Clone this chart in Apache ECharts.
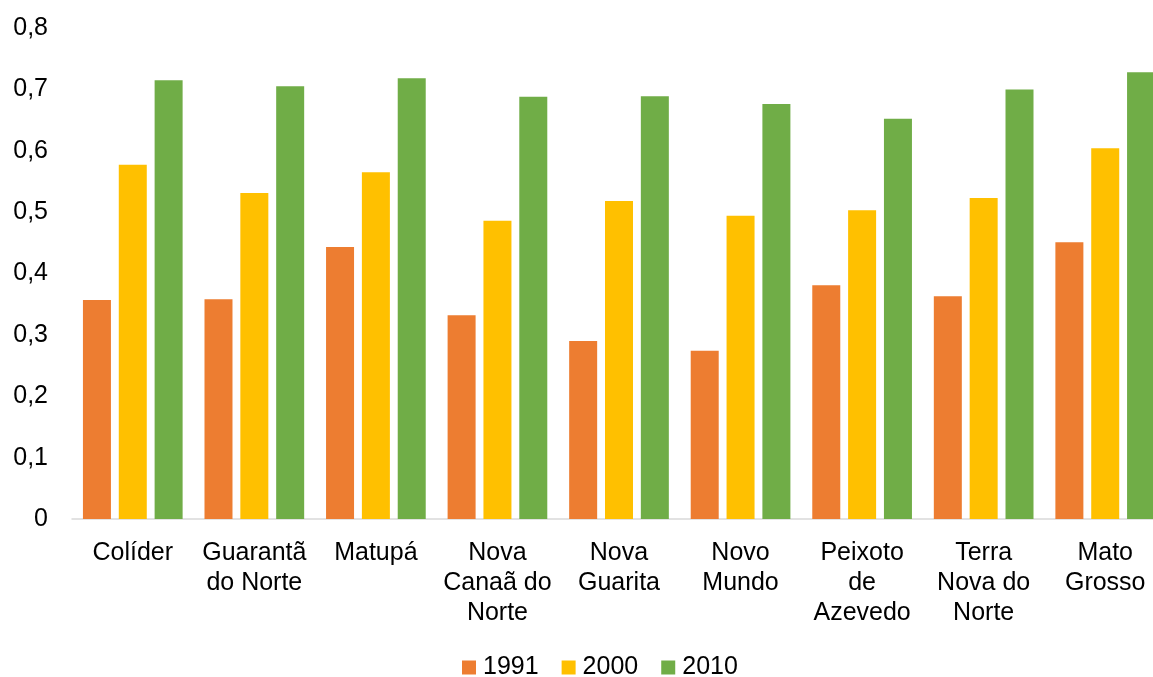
<!DOCTYPE html>
<html>
<head>
<meta charset="utf-8">
<script src="https://cdn.jsdelivr.net/npm/echarts@6/dist/echarts.min.js"></script>
<style>
  html, body { margin: 0; padding: 0; background: #fff; }
  #chart { width: 1153px; height: 677px; }
</style>
</head>
<body>
<div id="chart"></div>
<script>
var categories = ['Colíder', 'Guarantã\ndo Norte', 'Matupá', 'Nova\nCanaã do\nNorte', 'Nova\nGuarita',
  'Novo\nMundo', 'Peixoto\nde\nAzevedo', 'Terra\nNova do\nNorte', 'Mato\nGrosso'];
var years = ['1991', '2000', '2010'];
var v1991 = [0.357, 0.358, 0.443, 0.332, 0.290, 0.274, 0.381, 0.363, 0.451];
var v2000 = [0.577, 0.531, 0.565, 0.486, 0.518, 0.494, 0.503, 0.523, 0.604];
var v2010 = [0.715, 0.705, 0.718, 0.688, 0.689, 0.676, 0.652, 0.700, 0.728];

var colors = ['#ED7D31', '#FFC000', '#70AD47'];
var font = 'Liberation Sans, Arial, sans-serif';

var chart = echarts.init(document.getElementById('chart'));
var values = [v1991, v2000, v2010];
var series = years.map(function (y, i) {
  return {
    name: y,
    type: 'bar',
    barWidth: 28,
    barGap: '28%',
    data: values[i],
    itemStyle: { color: colors[i] }
  };
});

chart.setOption({
  animation: false,
  color: colors,
  // the plot runs a little past the right edge, as in the source
  grid: { left: 72, top: 28, bottom: 158, width: 1094, outerBoundsMode: 'none' },
  legend: {
    top: 650,
    left: 457,
    itemWidth: 14,
    itemHeight: 14,
    itemGap: 23,
    icon: 'rect',
    textStyle: { fontFamily: font, fontSize: 25, color: '#000', padding: [0, 0, 0, 2] },
    data: years
  },
  xAxis: {
    type: 'category',
    data: categories,
    axisLine: { lineStyle: { color: '#d9d9d9', width: 1.5 } },
    axisTick: { show: false },
    axisLabel: {
      interval: 0,
      margin: 19,
      color: '#000',
      fontFamily: font,
      fontSize: 25,
      lineHeight: 30
    }
  },
  yAxis: {
    type: 'value',
    min: 0,
    max: 0.8,
    interval: 0.1,
    splitLine: { show: false },
    axisLine: { show: false },
    axisTick: { show: false },
    axisLabel: {
      margin: 24,
      color: '#000',
      fontFamily: font,
      fontSize: 25,
      formatter: function (v) { return (Math.round(v * 10) / 10).toString().replace('.', ','); }
    }
  },
  series: series
});
</script>
</body>
</html>
